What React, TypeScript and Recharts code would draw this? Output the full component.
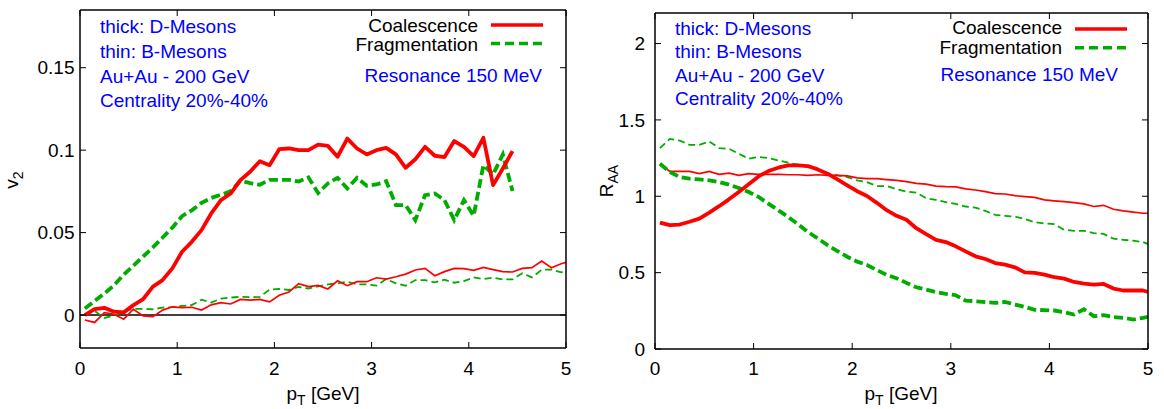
import React from "react";
import { LineChart, Line, XAxis, YAxis, ReferenceLine } from "recharts";

// bin centres in GeV (last point is the right edge)
const PT = [
  0.05, 0.15, 0.25, 0.35, 0.45, 0.55, 0.65, 0.75, 0.85, 0.95,
  1.05, 1.15, 1.25, 1.35, 1.45, 1.55, 1.65, 1.75, 1.85, 1.95,
  2.05, 2.15, 2.25, 2.35, 2.45, 2.55, 2.65, 2.75, 2.85, 2.95,
  3.05, 3.15, 3.25, 3.35, 3.45, 3.55, 3.65, 3.75, 3.85, 3.95,
  4.05, 4.15, 4.25, 4.35, 4.45, 4.55, 4.65, 4.75, 4.85, 4.95, 5.0,
];

// v2, D mesons (thick), up to 4.45 GeV
const V2_D_COAL = [
  0.0, 0.0036, 0.0044, 0.002, 0.0016, 0.006, 0.0097, 0.0172, 0.0212, 0.0283,
  0.0384, 0.0444, 0.0515, 0.0616, 0.0697, 0.0737, 0.0818, 0.0869, 0.0933, 0.0909,
  0.1006, 0.101, 0.1, 0.1, 0.1034, 0.1026, 0.096, 0.107, 0.101, 0.0974,
  0.1, 0.1014, 0.0974, 0.0893, 0.0945, 0.102, 0.0966, 0.0958, 0.1055, 0.102,
  0.0964, 0.1075, 0.0788, 0.0889, 0.0994,
];
const V2_D_FRAG = [
  0.004, 0.0085, 0.013, 0.018, 0.0245, 0.03, 0.0355, 0.041, 0.047, 0.053,
  0.06, 0.0635, 0.068, 0.071, 0.073, 0.075, 0.0815, 0.08, 0.079, 0.082,
  0.082, 0.082, 0.081, 0.0835, 0.074, 0.0798, 0.0832, 0.0768, 0.0832, 0.0784,
  0.0792, 0.0812, 0.0667, 0.0667, 0.0576, 0.0727, 0.0737, 0.0697, 0.0576, 0.0697,
  0.0602, 0.0909, 0.0853, 0.0974, 0.0752,
];
// v2, B mesons (thin)
const V2_B_COAL = [
  -0.003, -0.0045, 0.0015, 0.0005, -0.0025, 0.0035, -0.0005, -0.001, 0.003, 0.005,
  0.0045, 0.0047, 0.003, 0.0062, 0.0075, 0.0067, 0.0095, 0.009, 0.0095, 0.008,
  0.012, 0.014, 0.019, 0.0172, 0.018, 0.0158, 0.0208, 0.0178, 0.0202, 0.0202,
  0.0226, 0.0218, 0.0232, 0.0248, 0.0273, 0.0283, 0.0238, 0.0263, 0.0283, 0.0281,
  0.0271, 0.0289, 0.0275, 0.0263, 0.0261, 0.0283, 0.0287, 0.0327, 0.0287, 0.0311, 0.0319,
];
const V2_B_FRAG = [
  0.0003, 0.0025, -0.0018, -0.0003, 0.0022, 0.0037, 0.0037, 0.0035, 0.0045, 0.0048,
  0.0055, 0.006, 0.0093, 0.0075, 0.01, 0.0106, 0.011, 0.0108, 0.011, 0.0154,
  0.0158, 0.0152, 0.017, 0.0161, 0.0174, 0.0186, 0.0192, 0.0202, 0.0186, 0.0186,
  0.0178, 0.0218, 0.0192, 0.0178, 0.0212, 0.0212, 0.0198, 0.0214, 0.0196, 0.0206,
  0.0228, 0.0218, 0.0226, 0.0216, 0.0216, 0.0253, 0.0228, 0.0275, 0.0275, 0.0259, 0.0267,
];

// R_AA
const RAA_D_COAL = [
  0.828, 0.811, 0.815, 0.833, 0.854, 0.893, 0.935, 0.98, 1.028, 1.078,
  1.13, 1.165, 1.187, 1.202, 1.202, 1.198, 1.176, 1.148, 1.111, 1.072,
  1.033, 1.002, 0.957, 0.909, 0.872, 0.846, 0.791, 0.752, 0.715, 0.7,
  0.672, 0.639, 0.607, 0.589, 0.563, 0.552, 0.535, 0.502, 0.498, 0.487,
  0.47, 0.461, 0.439, 0.428, 0.422, 0.426, 0.396, 0.383, 0.383, 0.383, 0.374,
];
const RAA_D_FRAG = [
  1.213, 1.159, 1.126, 1.115, 1.111, 1.104, 1.093, 1.076, 1.054, 1.028,
  0.996, 0.952, 0.909, 0.865, 0.817, 0.767, 0.724, 0.68, 0.641, 0.604,
  0.572, 0.55, 0.517, 0.485, 0.463, 0.433, 0.404, 0.389, 0.372, 0.361,
  0.352, 0.317, 0.313, 0.307, 0.302, 0.309, 0.291, 0.276, 0.257, 0.254,
  0.252, 0.241, 0.226, 0.26, 0.215, 0.222, 0.209, 0.204, 0.193, 0.204, 0.21,
];
const RAA_B_COAL = [
  1.213, 1.163, 1.163, 1.163, 1.148, 1.163, 1.143, 1.152, 1.137, 1.148,
  1.143, 1.143, 1.143, 1.141, 1.141, 1.137, 1.141, 1.137, 1.137, 1.133,
  1.12, 1.115, 1.115, 1.109, 1.104, 1.096, 1.085, 1.08, 1.067, 1.063,
  1.061, 1.048, 1.041, 1.03, 1.017, 1.015, 1.004, 0.998, 0.993, 0.976,
  0.97, 0.965, 0.959, 0.95, 0.933, 0.941, 0.915, 0.904, 0.896, 0.889, 0.889,
];
const RAA_B_FRAG = [
  1.315, 1.376, 1.365, 1.337, 1.337, 1.359, 1.315, 1.311, 1.278, 1.246,
  1.257, 1.25, 1.235, 1.22, 1.207, 1.191, 1.176, 1.148, 1.137, 1.126,
  1.104, 1.093, 1.067, 1.067, 1.046, 1.03, 1.024, 0.987, 0.976, 0.961,
  0.95, 0.933, 0.926, 0.904, 0.878, 0.872, 0.867, 0.852, 0.83, 0.822,
  0.817, 0.78, 0.774, 0.774, 0.759, 0.754, 0.722, 0.715, 0.709, 0.7, 0.687,
];

const X_TICKS = [0, 1, 2, 3, 4, 5];
const V2_TICKS = [0, 0.05, 0.1, 0.15];
const RAA_TICKS = [0, 0.5, 1, 1.5, 2];

const INFO_LINES = ["thick: D-Mesons", "thin: B-Mesons", "Au+Au - 200 GeV", "Centrality 20%-40%"];
const SERIES_NAMES = ["Coalescence", "Fragmentation"];
const RESONANCE = "Resonance 150 MeV";

const RED = "#ff0000";
const GREEN = "#00ac00";
const BLUE = "#0000ff";
const FONT = "'Liberation Sans', Arial, Helvetica, sans-serif";

function buildRows(dCoal: number[], dFrag: number[], bCoal: number[], bFrag: number[]) {
  return PT.map((pt, i) => ({
    pt,
    dCoal: i < dCoal.length ? dCoal[i] : null,
    dFrag: i < dFrag.length ? dFrag[i] : null,
    bCoal: i < bCoal.length ? bCoal[i] : null,
    bFrag: i < bFrag.length ? bFrag[i] : null,
  }));
}

const v2Rows = buildRows(V2_D_COAL, V2_D_FRAG, V2_B_COAL, V2_B_FRAG);
const raaRows = buildRows(RAA_D_COAL, RAA_D_FRAG, RAA_B_COAL, RAA_B_FRAG);

const tickText = { fill: "#000", fontSize: 19 };
const axisLine = { stroke: "#000", strokeWidth: 1.5 };
const tickLine = { stroke: "#000", strokeWidth: 1 };
const blank = () => "";

interface PanelProps {
  data: ReturnType<typeof buildRows>;
  yDomain: [number, number];
  yTicks: number[];
  topH: number;
  bottomH: number;
  leftW: number;
  xTickMargin: number;
  yTickMargin: number;
  zeroLine?: boolean;
}

function Panel({ data, yDomain, yTicks, topH, bottomH, leftW, xTickMargin, yTickMargin, zeroLine }: PanelProps) {
  return (
    <LineChart width={582} height={409} data={data} margin={{ top: 0, right: 0, bottom: 0, left: 0 }}>
      <XAxis
        xAxisId="b"
        dataKey="pt"
        type="number"
        domain={[0, 5]}
        ticks={X_TICKS}
        interval={0}
        height={bottomH}
        tickSize={-6}
        tickMargin={xTickMargin}
        axisLine={axisLine}
        tickLine={tickLine}
        tick={tickText}
        allowDataOverflow
      />
      <XAxis
        xAxisId="t"
        orientation="top"
        dataKey="pt"
        type="number"
        domain={[0, 5]}
        ticks={X_TICKS}
        interval={0}
        height={topH}
        tickSize={-6}
        axisLine={axisLine}
        tickLine={tickLine}
        tickFormatter={blank}
        allowDataOverflow
      />
      <YAxis
        yAxisId="l"
        type="number"
        domain={yDomain}
        ticks={yTicks}
        interval={0}
        width={leftW}
        tickSize={-6}
        tickMargin={yTickMargin}
        axisLine={axisLine}
        tickLine={tickLine}
        tick={tickText}
        tickFormatter={(v: number) => String(v)}
        allowDataOverflow
      />
      <YAxis
        yAxisId="r"
        orientation="right"
        type="number"
        domain={yDomain}
        ticks={yTicks}
        interval={0}
        width={16}
        tickSize={-6}
        axisLine={axisLine}
        tickLine={tickLine}
        tickFormatter={blank}
        allowDataOverflow
      />
      {zeroLine && <ReferenceLine xAxisId="b" yAxisId="l" y={0} stroke="#000" strokeWidth={1.5} />}
      <Line xAxisId="b" yAxisId="l" type="linear" dataKey="bFrag" stroke={GREEN} strokeWidth={1.8}
        strokeDasharray="7 4" dot={false} isAnimationActive={false} />
      <Line xAxisId="b" yAxisId="l" type="linear" dataKey="bCoal" stroke={RED} strokeWidth={1.7}
        dot={false} isAnimationActive={false} />
      <Line xAxisId="b" yAxisId="l" type="linear" dataKey="dFrag" stroke={GREEN} strokeWidth={3.8}
        strokeDasharray="9 4" dot={false} isAnimationActive={false} />
      <Line xAxisId="b" yAxisId="l" type="linear" dataKey="dCoal" stroke={RED} strokeWidth={3.8}
        strokeLinejoin="round" dot={false} isAnimationActive={false} />
    </LineChart>
  );
}

interface NotesProps {
  infoX: number;
  infoY: number[];
  legendRight: number;
  legendY: number[];
  sampleY: number[];
  resRight: number;
  resY: number;
}

function Notes({ infoX, infoY, legendRight, legendY, sampleY, resRight, resY }: NotesProps) {
  return (
    <g fontSize={19}>
      {INFO_LINES.map((t, i) => (
        <text key={t} x={infoX} y={infoY[i]} fill={BLUE}>{t}</text>
      ))}
      {SERIES_NAMES.map((t, i) => (
        <text key={t} x={legendRight} y={legendY[i]} textAnchor="end" fill="#000">{t}</text>
      ))}
      <line x1={legendRight + 13} x2={legendRight + 65} y1={sampleY[0]} y2={sampleY[0]} stroke={RED} strokeWidth={3.5} />
      <line x1={legendRight + 13} x2={legendRight + 65} y1={sampleY[1]} y2={sampleY[1]} stroke={GREEN} strokeWidth={3.5}
        strokeDasharray="9 5" />
      <text x={resRight} y={resY} textAnchor="end" fill={BLUE}>{RESONANCE}</text>
    </g>
  );
}

export default function App() {
  return (
    <div style={{ position: "absolute", left: 0, top: 0, width: 1164, height: 409, background: "#fff", fontFamily: FONT }}>
      <div style={{ position: "absolute", left: 0, top: 0 }}>
        <Panel data={v2Rows} yDomain={[-0.02, 0.185]} yTicks={V2_TICKS} topH={10} bottomH={61} leftW={80}
          xTickMargin={19.5} yTickMargin={11.5} zeroLine />
      </div>
      <div style={{ position: "absolute", left: 582, top: 0 }}>
        <Panel data={raaRows} yDomain={[0, 2.2]} yTicks={RAA_TICKS} topH={13} bottomH={60} leftW={73}
          xTickMargin={18.5} yTickMargin={16} />
      </div>
      <svg width={1164} height={409} style={{ position: "absolute", left: 0, top: 0, pointerEvents: "none" }}>
        <Notes infoX={100} infoY={[33.3, 58, 82.7, 107.3]} legendRight={478} legendY={[31.5, 51]} sampleY={[25, 43.5]}
          resRight={542} resY={81.7} />
        <Notes infoX={675} infoY={[35, 58.3, 81.7, 105]} legendRight={1062} legendY={[34.3, 54]} sampleY={[29, 47.7]}
          resRight={1118} resY={80.5} />
        <text x={18} y={180} transform="rotate(-90 18 180)" textAnchor="middle" fontSize={19} fill="#000">
          v<tspan dy={5} fontSize={14}>2</tspan>
        </text>
        <text x={613} y={181} transform="rotate(-90 613 181)" textAnchor="middle" fontSize={19} fill="#000">
          R<tspan dy={5} fontSize={14}>AA</tspan>
        </text>
        <text x={323} y={400} textAnchor="middle" fontSize={19} fill="#000">
          p<tspan dy={5} fontSize={14}>T</tspan><tspan dy={-5}> [GeV]</tspan>
        </text>
        <text x={901} y={400} textAnchor="middle" fontSize={19} fill="#000">
          p<tspan dy={5} fontSize={14}>T</tspan><tspan dy={-5}> [GeV]</tspan>
        </text>
      </svg>
    </div>
  );
}
